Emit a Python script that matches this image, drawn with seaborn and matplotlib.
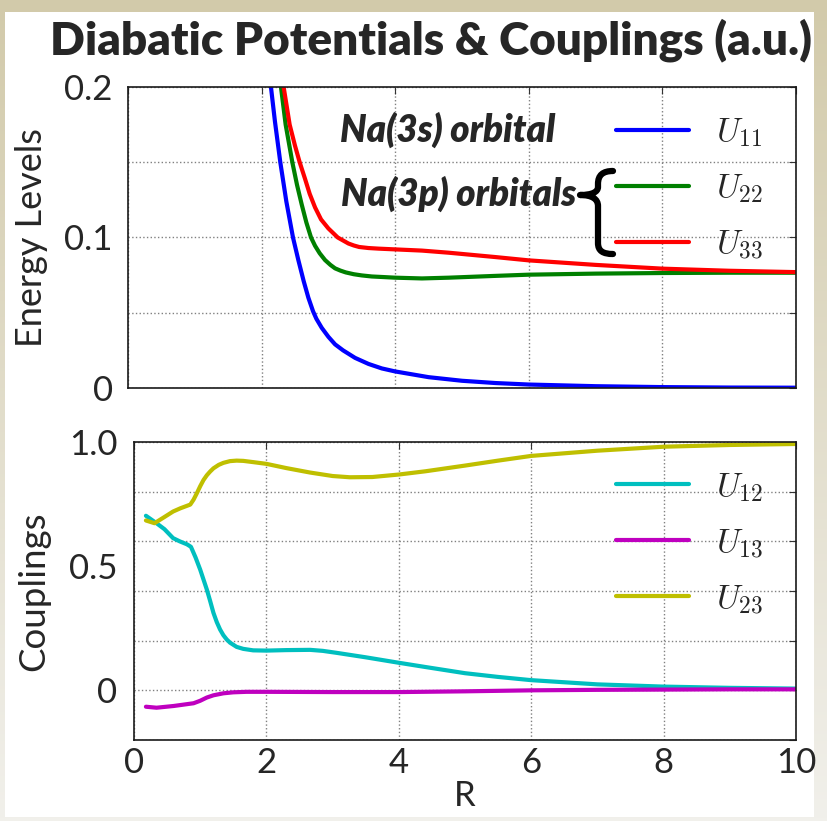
import numpy as np
import seaborn as sns
import matplotlib
matplotlib.use("Agg")
import matplotlib.pyplot as plt
from matplotlib.path import Path
from matplotlib.patches import PathPatch, Rectangle

# ---- diabatic potentials (a.u.) vs internuclear distance R ----
R_u11 = [2.08, 2.14, 2.20, 2.28, 2.37, 2.47, 2.55, 2.63, 2.70, 2.77, 2.82, 2.90, 3.00,
         3.10, 3.22, 3.40, 3.60, 3.80, 4.00, 4.50, 5.00, 5.50, 6.00, 7.00, 8.00, 9.00, 10.0]
U11 = [0.225, 0.200, 0.177, 0.150, 0.124, 0.100, 0.085, 0.071, 0.060, 0.051, 0.046,
       0.040, 0.034, 0.029, 0.025, 0.020, 0.016, 0.013, 0.011, 0.0072, 0.0048, 0.0033,
       0.0023, 0.0012, 0.0006, 0.0003, 0.0002]

R_u22 = [2.24, 2.29, 2.36, 2.46, 2.53, 2.60, 2.67, 2.74, 2.80, 2.87, 2.95, 3.03, 3.10,
         3.18, 3.26, 3.38, 3.50, 3.65, 3.83, 4.00, 4.40, 4.80, 5.50, 6.00, 7.00, 8.00,
         9.00, 10.0]
U22 = [0.222, 0.200, 0.175, 0.150, 0.135, 0.122, 0.110, 0.100, 0.0945, 0.0895, 0.0850,
       0.0818, 0.0795, 0.0780, 0.0768, 0.0756, 0.0748, 0.0741, 0.0737, 0.0733, 0.0728,
       0.0733, 0.0745, 0.0753, 0.0760, 0.0764, 0.0766, 0.0766]

R_u33 = [2.28, 2.33, 2.42, 2.50, 2.57, 2.65, 2.72, 2.80, 2.89, 3.00, 3.07, 3.14, 3.22,
         3.30, 3.38, 3.46, 3.60, 3.75, 4.00, 4.40, 4.80, 5.50, 6.00, 7.00, 8.00, 9.00, 10.0]
U33 = [0.222, 0.200, 0.175, 0.161, 0.150, 0.139, 0.129, 0.120, 0.112, 0.106, 0.103,
       0.100, 0.098, 0.096, 0.0947, 0.0937, 0.0930, 0.0926, 0.0921, 0.0913, 0.0899,
       0.0870, 0.0848, 0.0818, 0.0793, 0.0779, 0.0770]

# ---- couplings vs R ----
R_u12 = [0.18, 0.34, 0.46, 0.59, 0.69, 0.80, 0.86, 0.93, 1.00, 1.05, 1.10, 1.15, 1.20,
         1.25, 1.30, 1.35, 1.40, 1.45, 1.55, 1.65, 1.80, 2.00, 2.30, 2.66, 2.85, 3.06,
         3.50, 4.00, 4.40, 5.00, 5.50, 6.00, 7.00, 8.00, 9.00, 10.0]
U12 = [0.703, 0.673, 0.649, 0.613, 0.600, 0.588, 0.578, 0.535, 0.486, 0.446, 0.406,
       0.360, 0.312, 0.275, 0.245, 0.222, 0.205, 0.192, 0.175, 0.167, 0.161, 0.160,
       0.162, 0.163, 0.159, 0.151, 0.133, 0.111, 0.094, 0.069, 0.054, 0.041, 0.024,
       0.015, 0.010, 0.007]

R_u13 = [0.18, 0.34, 0.60, 0.90, 1.00, 1.10, 1.20, 1.35, 1.50, 1.70, 2.00, 3.00, 4.00,
         5.00, 6.00, 7.00, 8.00, 9.00, 10.0]
U13 = [-0.066, -0.070, -0.063, -0.052, -0.042, -0.029, -0.020, -0.012, -0.008, -0.006,
       -0.006, -0.007, -0.007, -0.004, 0.000, 0.002, 0.003, 0.004, 0.004]

R_u23 = [0.18, 0.31, 0.46, 0.59, 0.70, 0.80, 0.85, 0.90, 0.95, 1.00, 1.05, 1.10, 1.15,
         1.20, 1.28, 1.35, 1.45, 1.55, 1.65, 1.80, 2.00, 2.30, 2.66, 3.00, 3.26, 3.60,
         4.00, 4.40, 5.00, 5.50, 6.00, 7.00, 8.00, 9.00, 10.0]
U23 = [0.684, 0.673, 0.698, 0.720, 0.733, 0.743, 0.748, 0.768, 0.794, 0.822, 0.847,
       0.866, 0.881, 0.894, 0.908, 0.916, 0.923, 0.925, 0.924, 0.919, 0.912, 0.895,
       0.877, 0.863, 0.858, 0.859, 0.869, 0.882, 0.905, 0.925, 0.944, 0.965, 0.981,
       0.988, 0.992]

pot_labels = [r'$U_{11}$', r'$U_{22}$', r'$U_{33}$']
cpl_labels = [r'$U_{12}$', r'$U_{13}$', r'$U_{23}$']
x_ticks = [0, 2, 4, 6, 8, 10]

sns.set_style("white")
plt.rcParams['font.family'] = ['Lato', 'DejaVu Sans']
plt.rcParams['mathtext.fontset'] = 'cm'

W, H = 827, 821
fig = plt.figure(figsize=(W / 100, H / 100), dpi=100)


def fx(x):
    return x / W


def fy(y):
    return 1 - y / H


# slide-style backdrop: beige gradient frame around a white panel
bg = fig.add_axes([0, 0, 1, 1], zorder=-10)
t = np.linspace(0, 1, 256)[:, None, None]
c_top = np.array([210, 202, 170]) / 255
c_bot = np.array([241, 240, 235]) / 255
bg.imshow(c_top * (1 - t) + c_bot * t, aspect='auto', extent=[0, 1, 0, 1])
bg.add_patch(Rectangle((fx(5), fy(817)), (814 - 5) / W, (817 - 12) / H,
                       facecolor='white', edgecolor='none', transform=bg.transAxes))
bg.set_xlim(0, 1)
bg.set_ylim(0, 1)
bg.axis('off')

ax1 = fig.add_axes([fx(128), fy(388), 668 / W, 301 / H])
ax2 = fig.add_axes([fx(134), fy(740), 662 / W, 298 / H])

lw = 3.0
for xs, ys, c in [(R_u11, U11, 'b'), (R_u22, U22, 'g'), (R_u33, U33, 'r')]:
    sns.lineplot(x=xs, y=ys, ax=ax1, color=c, lw=lw, legend=False)
for xs, ys, c in [(R_u12, U12, 'c'), (R_u13, U13, 'm'), (R_u23, U23, 'y')]:
    sns.lineplot(x=xs, y=ys, ax=ax2, color=c, lw=lw, legend=False)

grid_kw = dict(color='#808080', linestyle=':', linewidth=1.0)
for ax in (ax1, ax2):
    ax.set_xlim(0, 10)
    ax.set_xticks(x_ticks)
    ax.set_xlabel('')
    ax.set_ylabel('')
    ax.grid(True, which='major', **grid_kw)
    ax.tick_params(which='major', direction='in', top=True, right=True,
                   length=5, width=0.8, color='#333333')
    for s in ax.spines.values():
        s.set_color('#1a1a1a')
        s.set_linewidth(1.2)

tick_fs = 25

# potentials panel
ax1.set_ylim(0, 0.2)
ax1.set_yticks([0, 0.05, 0.1, 0.15, 0.2])
ax1.set_yticklabels(['0', '', '0.1', '', '0.2'])
ax1.set_xticklabels([])
ax1.tick_params(axis='y', labelsize=tick_fs, pad=11)

# couplings panel: grid every 0.2, labels at 0, 0.5, 1.0
ax2.set_ylim(-0.2, 1.0)
ax2.yaxis.remove_overlapping_locs = False
ax2.set_yticks(np.round(np.arange(-0.2, 1.01, 0.2), 1))
ax2.set_yticklabels([])
ax2.set_yticks([0, 0.5, 1.0], minor=True)
ax2.set_yticklabels(['0', '0.5', '1.0'], minor=True)
ax2.tick_params(axis='y', which='minor', length=0, labelsize=tick_fs, pad=12)
ax2.set_xticklabels([str(v) for v in x_ticks])
ax2.tick_params(axis='x', labelsize=tick_fs, pad=5)

# legends
leg_kw = dict(loc='center left', bbox_transform=fig.transFigure, frameon=False,
              fontsize=24, handlelength=2.2, handletextpad=0.8, labelspacing=0.7,
              borderpad=0, borderaxespad=0)
ax1.legend(ax1.get_lines()[:3], pot_labels, bbox_to_anchor=(fx(616), fy(189)), **leg_kw)
ax2.legend(ax2.get_lines()[:3], cpl_labels, bbox_to_anchor=(fx(616), fy(543.5)), **leg_kw)

# titles and axis labels
fig.text(fx(431), fy(40), 'Diabatic Potentials & Couplings (a.u.)', ha='center',
         va='center', fontsize=33, fontweight='heavy')
fig.text(fx(32), fy(238), 'Energy Levels', rotation=90, ha='center', va='center',
         fontsize=26)
fig.text(fx(34), fy(591), 'Couplings', rotation=90, ha='center', va='center',
         fontsize=26.5)
fig.text(fx(465), fy(796), 'R', ha='center', va='center', fontsize=25)

# orbital annotations
ann_kw = dict(ha='left', va='baseline', fontsize=26.5, fontweight='heavy',
              fontstyle='italic')
fig.text(fx(340), fy(142), 'Na(3s) orbital', **ann_kw)
fig.text(fx(341), fy(206), 'Na(3p) orbitals', **ann_kw)

# curly brace grouping the 3p potentials
brace_px = [(613, 171), (603, 171), (598, 175), (598, 184),
            (598, 187),
            (598, 192), (592, 195), (580, 195),
            (592, 195), (598, 199), (598, 206),
            (598, 243),
            (598, 251), (603, 254), (613, 254)]
codes = [Path.MOVETO, Path.CURVE4, Path.CURVE4, Path.CURVE4,
         Path.LINETO,
         Path.CURVE4, Path.CURVE4, Path.CURVE4,
         Path.CURVE4, Path.CURVE4, Path.CURVE4,
         Path.LINETO,
         Path.CURVE4, Path.CURVE4, Path.CURVE4]
brace = Path([(fx(x), fy(y)) for x, y in brace_px], codes)
fig.patches.append(PathPatch(brace, facecolor='none', edgecolor='black', lw=4.5,
                             capstyle='round', joinstyle='round',
                             transform=fig.transFigure, figure=fig))

fig.savefig('out.png', dpi=100)
